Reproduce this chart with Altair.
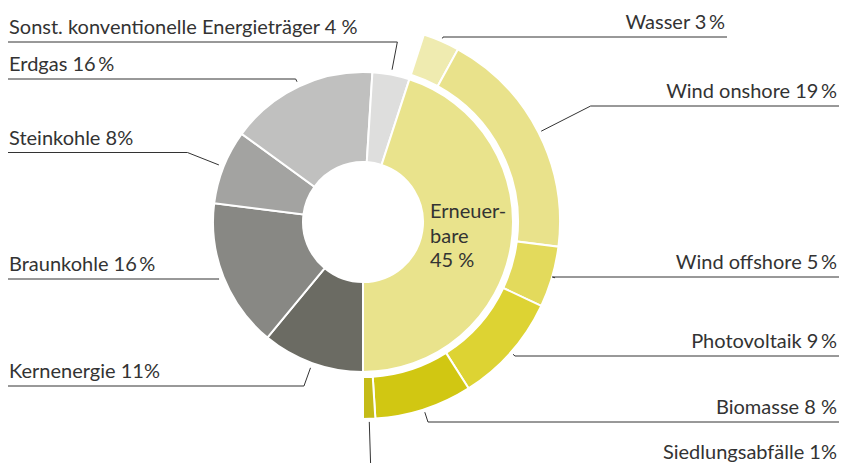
import math
import altair as alt
import pandas as pd

# ---- data ----
conv_names = ["Kernenergie", "Braunkohle", "Steinkohle", "Erdgas",
              "Sonst. konventionelle Energieträger"]
conv_values = [11, 16, 8, 16, 4]
conv_colors = ["#6b6b63", "#888884", "#a3a3a1", "#c0c0bf", "#dededd"]
conv_labels = ["Kernenergie 11%", "Braunkohle 16\u2009%", "Steinkohle 8%",
               "Erdgas 16\u2009%", "Sonst. konventionelle Energieträger 4 %"]

ren_total_name = "Erneuerbare"
ren_total_value = 45
ren_total_color = "#e9e38c"
ren_total_lines = ["Erneuer-", "bare", "45 %"]

ren_names = ["Wasser", "Wind onshore", "Wind offshore", "Photovoltaik",
             "Biomasse", "Siedlungsabfälle"]
ren_values = [3, 19, 5, 9, 8, 1]
ren_colors = ["#efebb0", "#e9e28b", "#e3da5c", "#ddd333", "#d1c712", "#c4bb17"]
ren_labels = ["Wasser 3\u2009%", "Wind onshore 19\u2009%", "Wind offshore 5\u2009%",
              "Photovoltaik 9\u2009%", "Biomasse 8 %", "Siedlungsabfälle 1%"]

# ---- layout (pixels in plot area) ----
W, H = 831, 455
CX, CY = 355, 214
R_HOLE, R_IN, R_OUT0, R_OUT = 60, 150, 155, 197
conv_line_y = [378, 271, 144.5, 71, 34]
ren_line_y = [29, 98, 269, 348, 414, None]
ren_line_end = [719, 831, 831, 831, 831, 831]
TEXT_COLOR = "#333333"
FONT = "Lato"
FS = 20

# ---- ring tables ----
def ring(names, values, offset):
    rows, c = [], offset
    for n, v in zip(names, values):
        rows.append({"name": n, "start": c, "end": c + v})
        c += v
    return pd.DataFrame(rows)

inner_df = ring(conv_names + [ren_total_name], conv_values + [ren_total_value], 0)
outer_df = ring(ren_names, ren_values, sum(conv_values))
total = sum(conv_values) + ren_total_value

theta_scale = alt.Scale(domain=[0, total], range=[math.pi, 3 * math.pi])
color_scale = alt.Scale(domain=conv_names + [ren_total_name] + ren_names,
                        range=conv_colors + [ren_total_color] + ren_colors)

def arcs(df, r0, r1):
    return alt.Chart(df).mark_arc(innerRadius=r0, outerRadius=r1,
                                  stroke="white", strokeWidth=2).encode(
        theta=alt.Theta("start:Q", scale=theta_scale),
        theta2="end:Q",
        color=alt.Color("name:N", scale=color_scale, legend=None),
        x=alt.value(CX), y=alt.value(CY),
    )

# ---- leader lines (anchored at slice mid-angles) ----
def direction(mid):
    a = math.radians(180 + mid * 360 / total)
    return math.sin(a), -math.cos(a)

line_rows, text_left, text_right = [], [], []
for i, (lab, ly) in enumerate(zip(conv_labels, conv_line_y)):
    r = inner_df.iloc[i]
    dx, dy = direction((r.start + r.end) / 2)
    ax, ay = CX + (R_IN + 5) * dx, CY + (R_IN + 5) * dy
    t = (ly - ay) / dy
    pts = [(ax, ay), (ax + t * dx, ly), (0, ly)]
    for k, (px, py) in enumerate(pts):
        line_rows.append({"id": lab, "k": k, "x": px, "y": py})
    text_left.append({"x": 1, "y": ly - 8, "text": lab})

for i, (lab, ly, le) in enumerate(zip(ren_labels, ren_line_y, ren_line_end)):
    r = outer_df.iloc[i]
    dx, dy = direction((r.start + r.end) / 2)
    ax, ay = CX + (R_OUT + 3) * dx, CY + (R_OUT + 3) * dy
    if ly is None:
        t = (H - ay) / dy
        pts = [(ax, ay), (ax + t * dx, H)]
        text_right.append({"x": le - 2, "y": 451, "text": lab})
    else:
        t = (ly - ay) / dy
        pts = [(ax, ay), (ax + t * dx, ly), (le, ly)]
        text_right.append({"x": le - 2, "y": ly - 8, "text": lab})
    for k, (px, py) in enumerate(pts):
        line_rows.append({"id": lab, "k": k, "x": px, "y": py})

lines_df = pd.DataFrame(line_rows)
leaders = alt.Chart(lines_df).mark_line(color=TEXT_COLOR, strokeWidth=1).encode(
    x=alt.X("x:Q", scale=None, axis=None),
    y=alt.Y("y:Q", scale=None, axis=None),
    detail="id:N",
    order="k:Q",
)

def texts(rows, align):
    return alt.Chart(pd.DataFrame(rows)).mark_text(
        align=align, baseline="alphabetic", font=FONT, fontSize=FS,
        color=TEXT_COLOR).encode(
        x=alt.X("x:Q", scale=None, axis=None),
        y=alt.Y("y:Q", scale=None, axis=None),
        text="text:N",
    )

center_rows = [{"x": 422, "y": 210 + 24.5 * i, "text": s}
               for i, s in enumerate(ren_total_lines)]

chart = alt.layer(
    arcs(inner_df, R_HOLE, R_IN),
    arcs(outer_df, R_OUT0, R_OUT),
    leaders,
    texts(text_left, "left"),
    texts(text_right, "right"),
    texts(center_rows, "left"),
).properties(width=W, height=H, padding=0, autosize="none"
).configure_view(stroke=None)

chart.save("out.html", embed_options={"renderer": "svg", "actions": False})
